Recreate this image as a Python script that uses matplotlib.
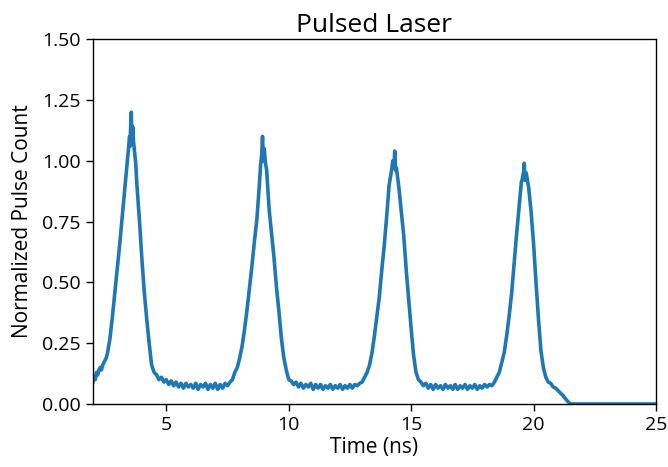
import matplotlib
matplotlib.use("Agg")
import matplotlib.pyplot as plt

# ---- data (time in ns, normalized count) ----
time_start = [2.0, 2.05, 2.1, 2.15, 2.2, 2.25, 2.3, 2.35, 2.4, 2.45, 2.5, 2.55, 2.6]
count_start = [0.09, 0.11, 0.10, 0.13, 0.12, 0.14, 0.15, 0.14, 0.16, 0.17, 0.18, 0.19, 0.21]

time_peak1 = [2.7, 2.8, 2.9, 3.0, 3.1, 3.2, 3.3, 3.4, 3.45, 3.5, 3.52, 3.55, 3.57, 3.6,
              3.63, 3.66, 3.7, 3.75, 3.8, 3.9, 4.0, 4.1, 4.2, 4.3, 4.4, 4.5]
count_peak1 = [0.27, 0.36, 0.46, 0.56, 0.66, 0.77, 0.88, 0.99, 1.05, 1.10, 1.06, 1.16, 1.20,
               1.07, 1.14, 1.08, 1.04, 0.99, 0.90, 0.76, 0.60, 0.46, 0.35, 0.25, 0.16, 0.13]

time_gap1 = [4.6, 4.7, 4.8, 4.9, 5.0, 5.1, 5.2, 5.3, 5.4, 5.5, 5.6, 5.7, 5.8, 5.9, 6.0,
             6.1, 6.2, 6.3, 6.4, 6.5, 6.6, 6.7, 6.8, 6.9, 7.0, 7.1, 7.2, 7.3, 7.4, 7.5, 7.6]
count_gap1 = [0.12, 0.10, 0.11, 0.09, 0.10, 0.08, 0.095, 0.075, 0.09, 0.07, 0.085, 0.065,
              0.085, 0.07, 0.08, 0.065, 0.085, 0.06, 0.08, 0.07, 0.085, 0.06, 0.08, 0.065,
              0.085, 0.06, 0.08, 0.065, 0.085, 0.075, 0.09]

time_peak2 = [7.7, 7.8, 7.9, 8.0, 8.1, 8.2, 8.3, 8.4, 8.5, 8.6, 8.7, 8.8, 8.85, 8.9, 8.93,
              8.96, 9.0, 9.05, 9.1, 9.2, 9.3, 9.4, 9.5, 9.6, 9.7, 9.8, 9.9, 10.0]
count_peak2 = [0.10, 0.13, 0.15, 0.19, 0.24, 0.31, 0.39, 0.48, 0.57, 0.67, 0.76, 0.90, 0.98,
               1.03, 1.10, 1.00, 1.05, 0.99, 0.96, 0.80, 0.70, 0.60, 0.48, 0.38, 0.27, 0.19,
               0.14, 0.10]

time_gap2 = [10.1, 10.2, 10.3, 10.4, 10.5, 10.6, 10.7, 10.8, 10.9, 11.0, 11.1, 11.2, 11.3,
             11.4, 11.5, 11.6, 11.7, 11.8, 11.9, 12.0, 12.1, 12.2, 12.3, 12.4, 12.5, 12.6,
             12.7, 12.8, 12.9]
count_gap2 = [0.095, 0.08, 0.09, 0.07, 0.085, 0.065, 0.08, 0.07, 0.085, 0.06, 0.08, 0.065,
              0.08, 0.06, 0.075, 0.065, 0.08, 0.06, 0.075, 0.065, 0.08, 0.06, 0.075, 0.065,
              0.08, 0.065, 0.08, 0.075, 0.085]

time_peak3 = [13.0, 13.1, 13.2, 13.3, 13.4, 13.5, 13.6, 13.7, 13.8, 13.9, 14.0, 14.1, 14.2,
              14.25, 14.3, 14.33, 14.37, 14.4, 14.5, 14.6, 14.7, 14.8, 14.9, 15.0, 15.1,
              15.2, 15.3]
count_peak3 = [0.09, 0.11, 0.13, 0.16, 0.21, 0.28, 0.36, 0.44, 0.55, 0.65, 0.77, 0.90, 0.96,
               1.00, 0.97, 1.04, 0.96, 0.97, 0.89, 0.79, 0.69, 0.55, 0.43, 0.31, 0.20, 0.13,
               0.10]

time_gap3 = [15.4, 15.5, 15.6, 15.7, 15.8, 15.9, 16.0, 16.1, 16.2, 16.3, 16.4, 16.5, 16.6,
             16.7, 16.8, 16.9, 17.0, 17.1, 17.2, 17.3, 17.4, 17.5, 17.6, 17.7, 17.8, 17.9,
             18.0, 18.1, 18.2, 18.3]
count_gap3 = [0.09, 0.075, 0.085, 0.065, 0.08, 0.06, 0.08, 0.065, 0.075, 0.06, 0.08, 0.065,
              0.075, 0.06, 0.08, 0.06, 0.075, 0.065, 0.08, 0.06, 0.075, 0.065, 0.08, 0.06,
              0.075, 0.065, 0.08, 0.07, 0.08, 0.075]

time_peak4 = [18.4, 18.5, 18.6, 18.7, 18.8, 18.9, 19.0, 19.1, 19.2, 19.3, 19.4, 19.5, 19.55,
              19.6, 19.62, 19.65, 19.7, 19.8, 19.9, 20.0, 20.1, 20.2, 20.3, 20.4, 20.5, 20.6]
count_peak4 = [0.09, 0.11, 0.13, 0.17, 0.21, 0.28, 0.36, 0.45, 0.57, 0.69, 0.80, 0.91, 0.93,
               0.96, 0.99, 0.92, 0.95, 0.89, 0.79, 0.66, 0.50, 0.35, 0.22, 0.15, 0.11, 0.09]

time_tail = [20.7, 20.8, 20.9, 21.0, 21.1, 21.2, 21.3, 21.4, 21.5, 22.0, 23.0, 24.0, 25.0]
count_tail = [0.085, 0.07, 0.065, 0.055, 0.045, 0.035, 0.022, 0.01, 0.0, 0.0, 0.0, 0.0, 0.0]

time_ns = (time_start + time_peak1 + time_gap1 + time_peak2 + time_gap2 +
           time_peak3 + time_gap3 + time_peak4 + time_tail)
pulse_count = (count_start + count_peak1 + count_gap1 + count_peak2 + count_gap2 +
               count_peak3 + count_gap3 + count_peak4 + count_tail)

x_ticks = [5, 10, 15, 20, 25]
y_ticks = [0.00, 0.25, 0.50, 0.75, 1.00, 1.25, 1.50]

plt.rcParams['font.family'] = ['Open Sans', 'DejaVu Sans']

fig = plt.figure(figsize=(6.68, 4.67), dpi=100)
ax = fig.add_axes([0.139, 0.135, 0.843, 0.781])
ax.plot(time_ns, pulse_count, color='#1f77b4', linewidth=2.6)

ax.set_xlim(2, 25)
ax.set_ylim(0, 1.5)
ax.set_xticks(x_ticks)
ax.set_yticks(y_ticks)
ax.set_yticklabels([f"{v:.2f}" for v in y_ticks])
ax.tick_params(axis='both', labelsize=14, direction='out', length=5, width=1, pad=4)
for s in ax.spines.values():
    s.set_linewidth(1.0)

ax.set_xlabel('Time (ns)', fontsize=15, labelpad=2)
ax.set_ylabel('Normalized Pulse Count', fontsize=15, labelpad=6)
ax.set_title('Pulsed Laser', fontsize=19, pad=5)

fig.savefig('out.png', dpi=100)
